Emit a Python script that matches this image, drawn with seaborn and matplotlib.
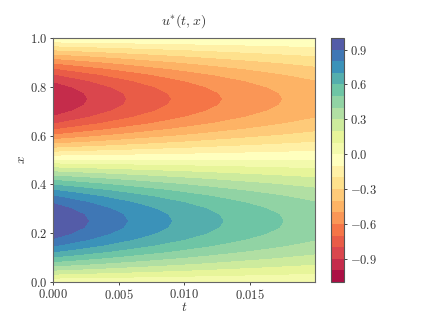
import numpy as np
import matplotlib
matplotlib.use("Agg")
import matplotlib.pyplot as plt
import seaborn as sns

t_values = [0.0, 0.002, 0.004, 0.006, 0.008, 0.010, 0.012, 0.014, 0.016, 0.018, 0.020]
peak_by_t = [1.0, 0.924, 0.854, 0.789, 0.729, 0.674, 0.623, 0.575, 0.532, 0.491, 0.454]
x_values = [0.0, 0.025, 0.05, 0.075, 0.1, 0.125, 0.15, 0.175, 0.2, 0.225, 0.25,
            0.275, 0.3, 0.325, 0.35, 0.375, 0.4, 0.425, 0.45, 0.475, 0.5,
            0.525, 0.55, 0.575, 0.6, 0.625, 0.65, 0.675, 0.7, 0.725, 0.75,
            0.775, 0.8, 0.825, 0.85, 0.875, 0.9, 0.925, 0.95, 0.975, 1.0]
profile_by_x = [0.0, 0.156, 0.309, 0.454, 0.588, 0.707, 0.809, 0.891, 0.951, 0.988, 1.0,
                0.988, 0.951, 0.891, 0.809, 0.707, 0.588, 0.454, 0.309, 0.156, 0.0,
                -0.156, -0.309, -0.454, -0.588, -0.707, -0.809, -0.891, -0.951, -0.988, -1.0,
                -0.988, -0.951, -0.891, -0.809, -0.707, -0.588, -0.454, -0.309, -0.156, 0.0]
level_values = [-1.1, -1.0, -0.9, -0.8, -0.7, -0.6, -0.5, -0.4, -0.3, -0.2, -0.1,
                0.0, 0.1, 0.2, 0.3, 0.4, 0.5, 0.6, 0.7, 0.8, 0.9, 1.0]
t_ticks = [0.0, 0.005, 0.010, 0.015]
x_ticks = [0.0, 0.2, 0.4, 0.6, 0.8, 1.0]
cbar_ticks = [-0.9, -0.6, -0.3, 0.0, 0.3, 0.6, 0.9]

sns.set_theme(style="ticks")
plt.rcParams["mathtext.fontset"] = "cm"
plt.rcParams["text.color"] = "#333333"
plt.rcParams["axes.labelcolor"] = "#333333"
plt.rcParams["xtick.labelcolor"] = "#333333"
plt.rcParams["ytick.labelcolor"] = "#333333"

W, H = 423, 317
fig = plt.figure(figsize=(W / 100, H / 100), dpi=100)
ax = fig.add_axes([53 / W, 1 - 282 / H, 262 / W, 244 / H])
cax = fig.add_axes([331 / W, 1 - 282 / H, 13 / W, 244 / H])

u_grid = np.outer(profile_by_x, peak_by_t)
cmap = sns.color_palette("Spectral", as_cmap=True)
cf = ax.contourf(t_values, x_values, u_grid, levels=level_values, cmap=cmap)
cbar = fig.colorbar(cf, cax=cax)

ax.set_xlim(0, 0.02)
ax.set_ylim(0, 1)
ax.set_xticks(t_ticks)
ax.set_xticklabels([f"${v:.3f}$" for v in t_ticks])
ax.set_yticks(x_ticks)
ax.set_yticklabels([f"${v:.1f}$" for v in x_ticks])
ax.tick_params(labelsize=9, length=2.5, width=0.7, pad=1.5, color="#444444")
ax.set_xlabel("$t$", fontsize=9.5, labelpad=-0.5)
ax.set_ylabel("$x$", fontsize=9.5, labelpad=1)
ax.set_title("$u^{*}(t, x)$", fontsize=10, pad=9.5)

cbar.set_ticks(cbar_ticks)
cbar.set_ticklabels([f"${v:.1f}$" for v in cbar_ticks])
cbar.ax.minorticks_off()
cbar.ax.tick_params(labelsize=9, length=2.5, width=0.7, pad=1.5, color="#444444")
cbar.outline.set_linewidth(0.8)
cbar.outline.set_edgecolor("#555555")
for side in ax.spines.values():
    side.set_linewidth(0.8)
    side.set_edgecolor("#666666")

plt.savefig("out.png", dpi=100)
